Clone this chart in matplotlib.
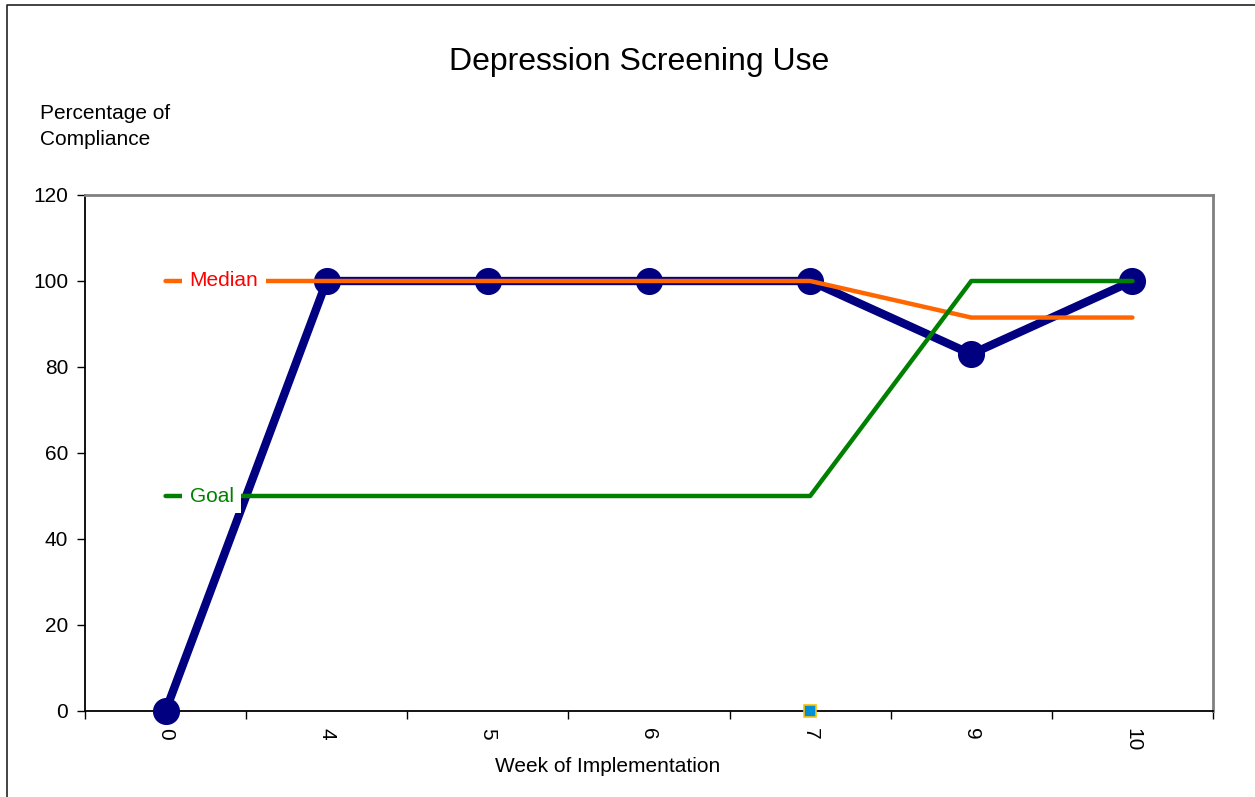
import numpy as np
import matplotlib.pyplot as plt
from matplotlib.lines import Line2D

plt.rcParams['font.family'] = ['Liberation Sans', 'DejaVu Sans']

weeks = ['0', '4', '5', '6', '7', '9', '10']
compliance = [0, 100, 100, 100, 100, 83, 100]
median = [100, 100, 100, 100, 100, 91.5, 91.5]
goal = [50, 50, 50, 50, 50, 100, 100]
# stray point left in the original sheet
stray_idx = [4]
stray_val = [0]

x = np.arange(len(weeks))

fig = plt.figure(figsize=(12.55, 7.97), dpi=100)
ax = fig.add_axes([85/1255, 1-711/797, (1213-85)/1255, (711-195)/797])

ax.plot(x, compliance, color='#000080', lw=6, marker='o', ms=18.5, zorder=3, clip_on=False)
ax.plot(x, median, color='#FF6600', lw=3.2, solid_capstyle='round', zorder=4)
ax.plot(x, goal, color='#008000', lw=3.2, solid_capstyle='round', zorder=5)
ax.plot(stray_idx, stray_val, ls='none', marker='s', ms=8.5, mfc='#0090D8',
        mec='#FFC000', mew=1.2, zorder=6, clip_on=False)

ax.text(0.15, median[0], 'Median', color='#FF0000', fontsize=15, ha='left', va='center',
        bbox=dict(boxstyle='square,pad=0.35', fc='white', ec='none'), zorder=7)
ax.text(0.15, goal[0], 'Goal', color='#008000', fontsize=15, ha='left', va='center',
        bbox=dict(boxstyle='square,pad=0.35', fc='white', ec='none'), zorder=7)

ax.set_xlim(-0.5, len(weeks) - 0.5)
ax.set_ylim(0, 120)
ax.set_yticks(np.arange(0, 121, 20))
ax.tick_params(axis='y', labelsize=15, length=6, width=1, direction='out', pad=6)

ax.set_xticks(np.arange(-0.5, len(weeks), 1))
ax.set_xticklabels([])
ax.set_xticks(x, minor=True)
ax.set_xticklabels(weeks, minor=True, rotation=270, fontsize=15)
ax.tick_params(axis='x', which='major', length=6, width=1, direction='out')
ax.tick_params(axis='x', which='minor', length=0, pad=12)

for s in ['left', 'bottom']:
    ax.spines[s].set_color('black')
    ax.spines[s].set_linewidth(1.3)
for s in ['top', 'right']:
    ax.spines[s].set_color('#808080')
    ax.spines[s].set_linewidth(2)

fig.text(639/1255, 1-62/797, 'Depression Screening Use', fontsize=23, ha='center', va='center')
fig.text(40/1255, 1-104/797, 'Percentage of\nCompliance', fontsize=15, ha='left', va='top',
         linespacing=1.45)
fig.text(608/1255, 1-767/797, 'Week of Implementation', fontsize=15, ha='center', va='center')

fig.add_artist(Line2D([7/1255, 7/1255, 1], [0, 1-5/797, 1-5/797], color='#222222', lw=1.2,
                      transform=fig.transFigure))

fig.savefig('out.png', dpi=100)
